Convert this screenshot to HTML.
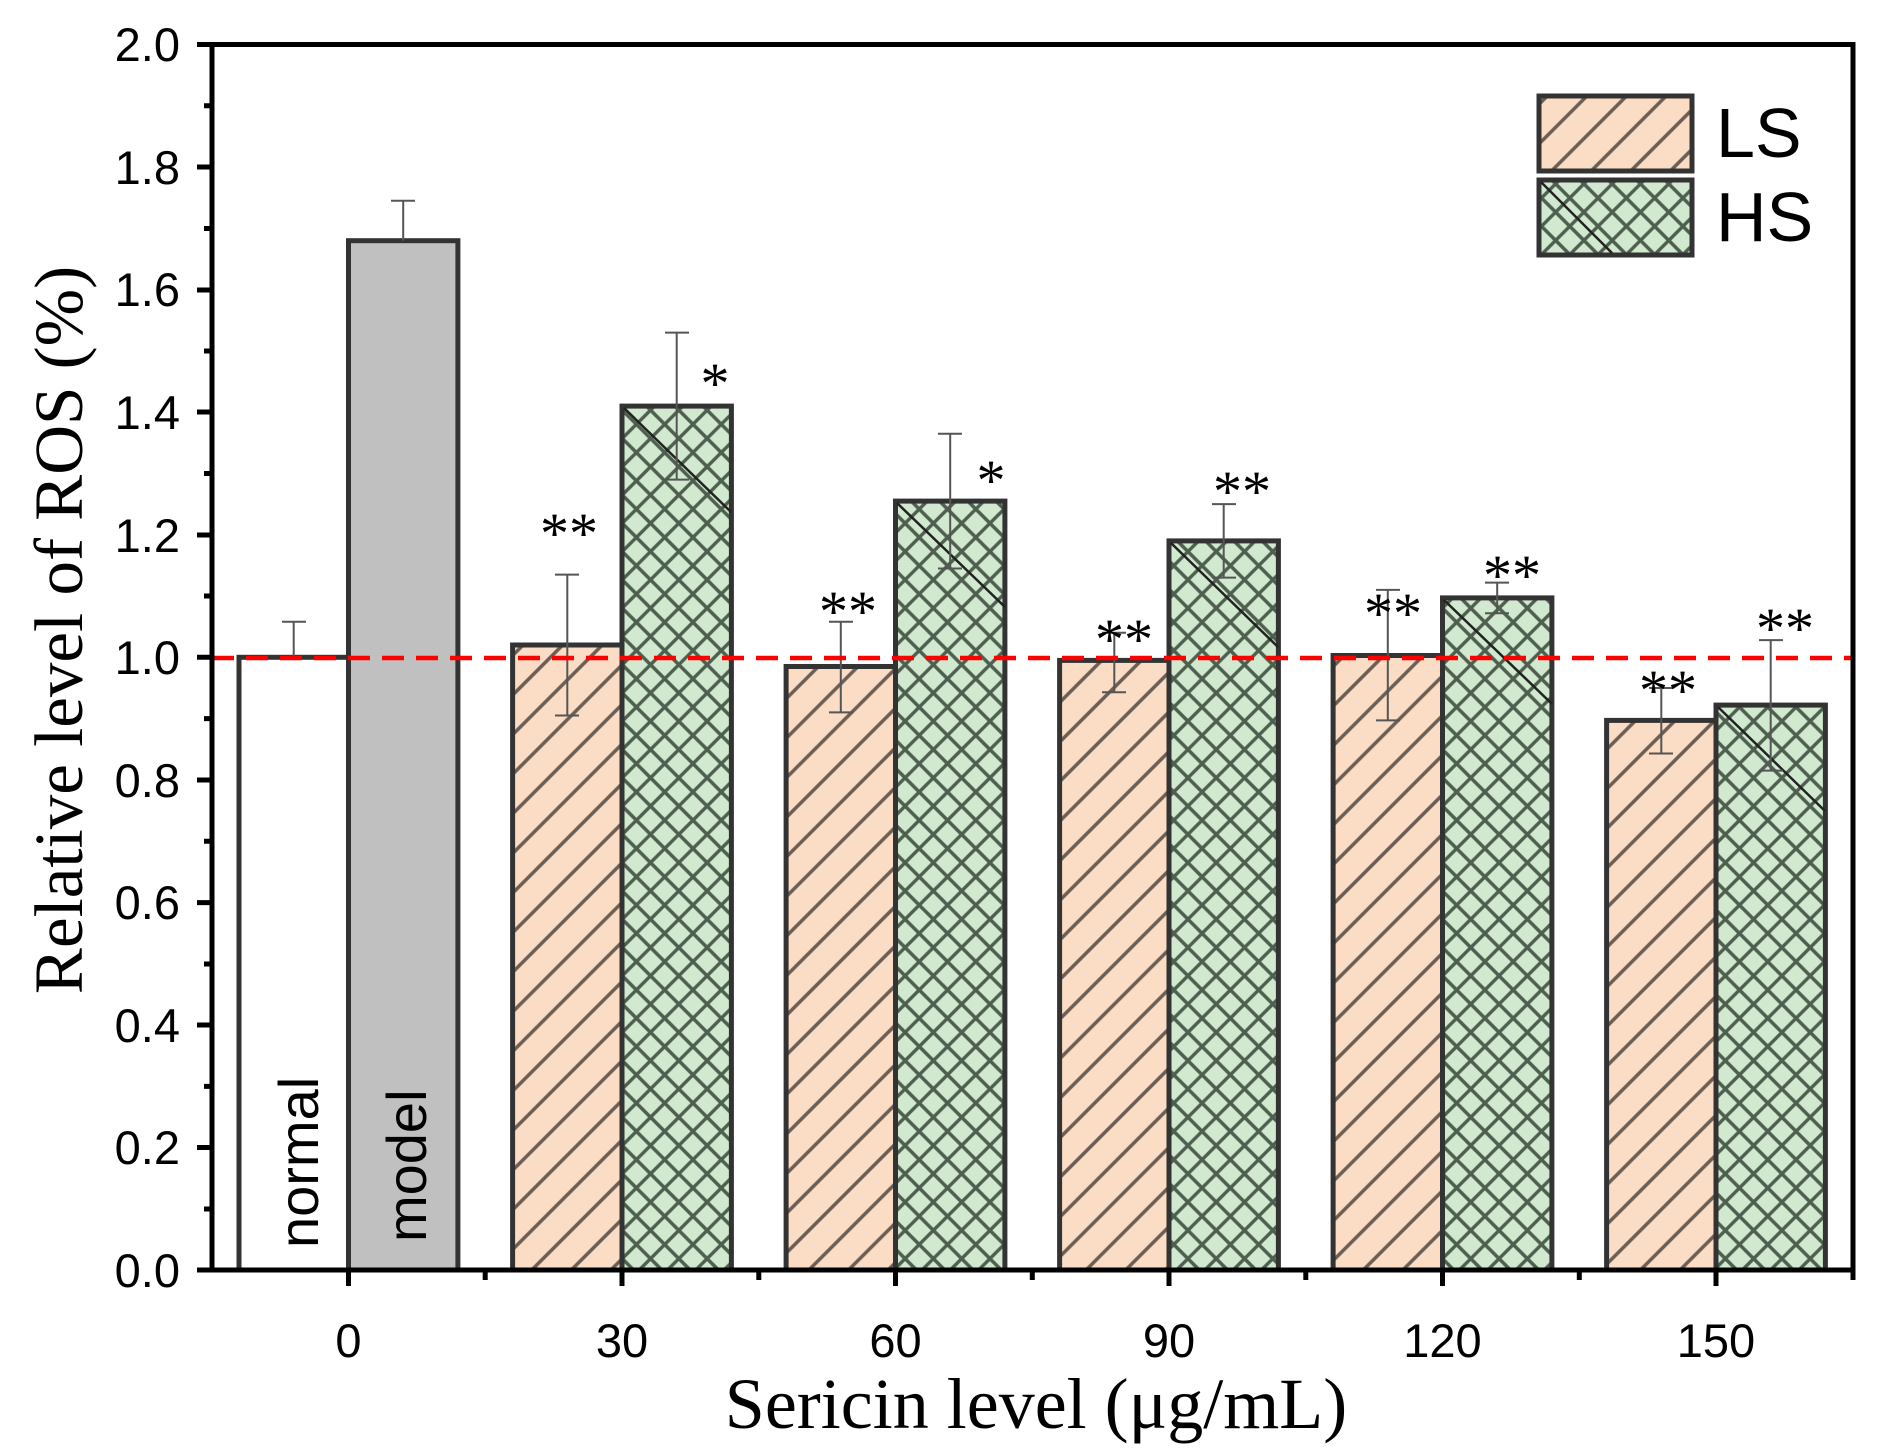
<!DOCTYPE html>
<html><head><meta charset="utf-8"><style>
html,body{margin:0;padding:0;background:#fff}
svg{display:block}
</style></head><body>
<svg width="1890" height="1452" viewBox="0 0 1890 1452" xmlns="http://www.w3.org/2000/svg">
<defs>
<pattern id="ls" patternUnits="userSpaceOnUse" width="28" height="28" patternTransform="rotate(45)">
<rect width="28" height="28" fill="#fbdcc4"/>
<line x1="14" y1="0" x2="14" y2="28" stroke="#6b5e55" stroke-width="3.5"/>
</pattern>
<pattern id="hs" patternUnits="userSpaceOnUse" width="20" height="20" patternTransform="rotate(45)">
<rect width="20" height="20" fill="#d0e9cf"/>
<line x1="10" y1="0" x2="10" y2="20" stroke="#4f5f4f" stroke-width="3.4"/>
<line x1="0" y1="10" x2="20" y2="10" stroke="#4f5f4f" stroke-width="3.4"/>
</pattern>
</defs>
<g font-family="Liberation Sans, sans-serif">
<g stroke="#333" stroke-width="5">
<rect x="239" y="657.3" width="109.5" height="612.7" fill="#fff"/>
<rect x="348.5" y="240.7" width="109.4" height="1029.3" fill="#c0c0c0"/>
<rect x="512.6" y="645" width="109.4" height="625" fill="url(#ls)"/>
<rect x="622" y="406.1" width="109.4" height="863.9" fill="url(#hs)"/>
<rect x="786.1" y="666.5" width="109.4" height="603.5" fill="url(#ls)"/>
<rect x="895.5" y="501.1" width="109.4" height="768.9" fill="url(#hs)"/>
<rect x="1059.6" y="660.4" width="109.4" height="609.6" fill="url(#ls)"/>
<rect x="1169" y="540.9" width="109.4" height="729.1" fill="url(#hs)"/>
<rect x="1333.1" y="655.5" width="109.4" height="614.5" fill="url(#ls)"/>
<rect x="1442.5" y="597.9" width="109.4" height="672.1" fill="url(#hs)"/>
<rect x="1606.6" y="720.4" width="109.4" height="549.6" fill="url(#ls)"/>
<rect x="1716" y="705.1" width="109.4" height="564.9" fill="url(#hs)"/>
</g>
<g stroke="#222" stroke-width="2.5">
<line x1="624" y1="408" x2="731" y2="512"/>
<line x1="897" y1="503" x2="1005" y2="607"/>
<line x1="1171" y1="543" x2="1278" y2="647"/>
<line x1="1444" y1="600" x2="1552" y2="704"/>
<line x1="1718" y1="707" x2="1825" y2="811"/>
</g>
<g stroke="#555" stroke-width="2" fill="none">
<path d="M293.7 657.3V621.8M282 621.8h24"/>
<path d="M403.2 240.7V200.8M391 200.8h24"/>
<path d="M567.3 574.6V715.5M555 574.6h24M555 715.5h24"/>
<path d="M676.7 332.6V479.6M665 332.6h24M665 479.6h24"/>
<path d="M840.8 621.8V712.4M829 621.8h24M829 712.4h24"/>
<path d="M950.2 433.7V568.5M938 433.7h24M938 568.5h24"/>
<path d="M1114.3 632.8V692.2M1102 632.8h24M1102 692.2h24"/>
<path d="M1223.7 504.1V577.6M1212 504.1h24M1212 577.6h24"/>
<path d="M1387.8 589.9V720.4M1376 589.9h24M1376 720.4h24"/>
<path d="M1497.2 582.6V613.2M1485 582.6h24M1485 613.2h24"/>
<path d="M1661.3 688V753.5M1649 688h24M1649 753.5h24"/>
<path d="M1770.7 640.1V770.6M1759 640.1h24M1759 770.6h24"/>
</g>
<line x1="212" y1="658" x2="1853" y2="658" stroke="#f00" stroke-width="4.5" stroke-dasharray="22,12"/>
<rect x="212" y="44.5" width="1641" height="1225.5" fill="none" stroke="#000" stroke-width="5"/>
<g stroke="#000" stroke-width="5">
<path d="M197 44.5h15M197 167h15M197 290h15M197 412h15M197 535h15M197 657.3h15M197 780h15M197 902.6h15M197 1025h15M197 1147.5h15M197 1270h15"/>
<path d="M204 105.7h8M204 228.5h8M204 351h8M204 473.5h8M204 596h8M204 718.6h8M204 841.3h8M204 964h8M204 1086.4h8M204 1209h8"/>
<path d="M348.5 1270v16M622 1270v16M895.5 1270v16M1169 1270v16M1442.5 1270v16M1716 1270v16"/>
<path d="M485.2 1270v10M758.8 1270v10M1032.3 1270v10M1305.8 1270v10M1579.3 1270v10M1853 1270v10"/>
</g>
<g font-size="47" text-anchor="end">
<text x="180" y="61">2.0</text><text x="180" y="184">1.8</text><text x="180" y="306">1.6</text>
<text x="180" y="429">1.4</text><text x="180" y="552">1.2</text><text x="180" y="674">1.0</text>
<text x="180" y="797">0.8</text><text x="180" y="919">0.6</text><text x="180" y="1042">0.4</text>
<text x="180" y="1164">0.2</text><text x="180" y="1287">0.0</text>
</g>
<g font-size="47" text-anchor="middle">
<text x="348.5" y="1357">0</text><text x="622" y="1357">30</text><text x="895.5" y="1357">60</text>
<text x="1169" y="1357">90</text><text x="1442.5" y="1357">120</text><text x="1716" y="1357">150</text>
</g>
<text transform="translate(318,1248) rotate(-90)" font-size="56" fill="#000">normal</text>
<text transform="translate(426,1242) rotate(-90)" font-size="56" fill="#000">model</text>
<g font-family="Liberation Serif, serif" font-size="58" text-anchor="middle">
<text x="569" y="553">**</text><text x="715" y="403">*</text>
<text x="848" y="631">**</text><text x="991" y="500">*</text>
<text x="1124" y="659">**</text><text x="1242" y="511">**</text>
<text x="1393" y="633">**</text><text x="1512" y="595">**</text>
<text x="1668" y="710">**</text><text x="1785" y="648">**</text>
</g>
<rect x="1539" y="96" width="153" height="75" fill="url(#ls)" stroke="#333" stroke-width="5"/>
<rect x="1539" y="180" width="153" height="75" fill="url(#hs)" stroke="#333" stroke-width="5"/>
<line x1="1541" y1="182" x2="1612" y2="253" stroke="#222" stroke-width="2.5"/>
<text x="1716" y="157" font-size="70">LS</text>
<text x="1716" y="241" font-size="70">HS</text>
<text x="1036" y="1428" font-family="Liberation Serif, serif" font-size="72" text-anchor="middle">Sericin level (μg/mL)</text>
<text transform="translate(82,630) rotate(-90)" font-family="Liberation Serif, serif" font-size="69" text-anchor="middle">Relative level of ROS (%)</text>
</g>
</svg>
</body></html>
